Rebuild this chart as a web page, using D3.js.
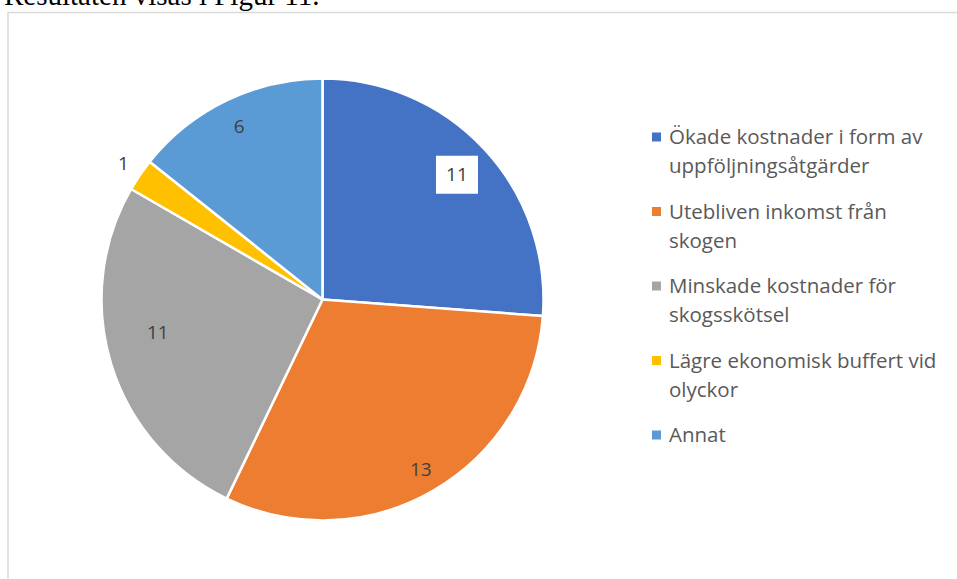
<!DOCTYPE html>
<html>
<head>
<meta charset="utf-8">
<script src="https://cdn.jsdelivr.net/npm/d3@7"></script>
<style>
  body { margin: 0; background: #fff; }
</style>
</head>
<body>
<div id="chart"></div>
<script>
const categories = [
  'Ökade kostnader i form av uppföljningsåtgärder',
  'Utebliven inkomst från skogen',
  'Minskade kostnader för skogsskötsel',
  'Lägre ekonomisk buffert vid olyckor',
  'Annat'
];
const legendLines = [
  ['Ökade kostnader i form av', 'uppföljningsåtgärder'],
  ['Utebliven inkomst från', 'skogen'],
  ['Minskade kostnader för', 'skogsskötsel'],
  ['Lägre ekonomisk buffert vid', 'olyckor'],
  ['Annat']
];
const values = [11, 13, 11, 1, 6];
const colors = ['#4472C4', '#ED7D31', '#A5A5A5', '#FFC000', '#5B9BD5'];

const width = 957, height = 579;
const cx = 322.5, cy = 299.5, radius = 221;

const svg = d3.select('#chart').append('svg')
    .attr('width', width)
    .attr('height', height);

// text from the document above the chart, cut off at the top
svg.append('text')
    .attr('x', 4)
    .attr('y', 5)
    .attr('font-family', 'Liberation Serif, Times New Roman, serif')
    .attr('font-size', 29)
    .attr('fill', '#000')
    .text('Resultaten visas i Figur 11.');

// chart frame
svg.append('rect')
    .attr('x', 8)
    .attr('y', 12.5)
    .attr('width', 960)
    .attr('height', 600)
    .attr('fill', 'none')
    .attr('stroke', '#d9d9d9')
    .attr('stroke-width', 1.5);

const pie = d3.pie().sort(null)(values);
const arc = d3.arc().innerRadius(0).outerRadius(radius);

const g = svg.append('g').attr('transform', `translate(${cx},${cy})`);

g.selectAll('path.slice')
    .data(pie)
    .join('path')
    .attr('class', 'slice')
    .attr('d', arc)
    .attr('fill', (d, i) => colors[i])
    .attr('stroke', '#fff')
    .attr('stroke-width', 2.5)
    .attr('stroke-linejoin', 'round');

// data labels, placed roughly where excel puts them
const labelR = [0.83, 0.89, 0.76, 1.09, 0.87];
const labelShift = [0, 0, 0.1, 0, 0];
const labels = g.selectAll('g.lbl')
    .data(pie)
    .join('g')
    .attr('class', 'lbl')
    .attr('transform', (d, i) => {
        const a = (d.startAngle + d.endAngle) / 2 + labelShift[i];
        const r = radius * labelR[i];
        return `translate(${Math.sin(a) * r},${-Math.cos(a) * r})`;
    });

labels.filter((d, i) => i === 0)
    .append('rect')
    .attr('x', -21).attr('y', -19)
    .attr('width', 42).attr('height', 38)
    .attr('fill', '#fff');

labels.append('text')
    .attr('text-anchor', 'middle')
    .attr('dy', '0.35em')
    .attr('font-family', 'Open Sans, Calibri, sans-serif')
    .attr('font-size', 19)
    .attr('fill', '#404040')
    .text(d => d.data);

// legend
const legend = svg.append('g').attr('transform', 'translate(652,137)');
const item = legend.selectAll('g')
    .data(categories)
    .join('g')
    .attr('transform', (d, i) => `translate(0,${i * 74.5})`);

item.append('rect')
    .attr('x', 0).attr('y', -4.5)
    .attr('width', 9).attr('height', 9)
    .attr('fill', (d, i) => colors[i]);

item.append('text')
    .attr('x', 17)
    .attr('font-family', 'Open Sans, Calibri, sans-serif')
    .attr('font-size', 20.5)
    .attr('fill', '#595959')
    .selectAll('tspan')
    .data((d, i) => legendLines[i])
    .join('tspan')
    .attr('x', 17)
    .attr('y', (d, j) => j * 29)
    .attr('dy', '0.35em')
    .text(d => d);
</script>
</body>
</html>
